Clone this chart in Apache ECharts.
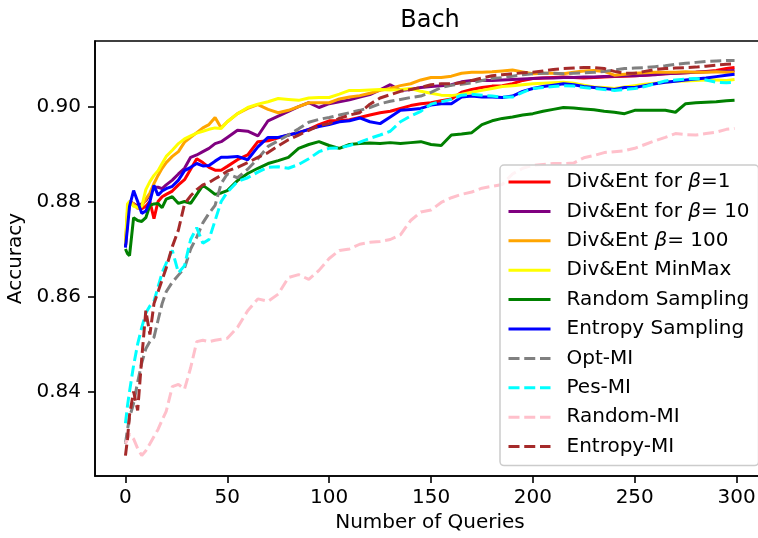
<!DOCTYPE html>
<html>
<head>
<meta charset="utf-8">
<script src="https://cdn.jsdelivr.net/npm/echarts@6/dist/echarts.min.js"></script>
<style>
  html, body { margin: 0; padding: 0; background: #fff; }
  #chart { width: 758px; height: 538px; }
</style>
</head>
<body>
<div id="chart"></div>
<script>
// Query counts at which accuracy was recorded
const queries = [0, 1, 2, 4, 6, 8, 10, 12, 14, 16, 18, 20,
  23, 26, 29, 32, 35, 38, 41, 44, 47, 50,
  55, 60, 65, 70, 75, 80, 85, 90, 95, 100,
  105, 110, 115, 120, 125, 130, 135, 140, 145, 150,
  155, 160, 165, 170, 175, 180, 185, 190, 195, 200,
  205, 210, 215, 220, 225, 230, 235, 240, 245, 250,
  255, 260, 265, 270, 275, 280, 285, 290, 295, 299];

const divEntBeta1 = [0.8705, 0.8760, 0.8800, 0.8795, 0.8790, 0.8785, 0.8790, 0.8800, 0.8764, 0.8800, 0.8810, 0.8815,
  0.8822, 0.8835, 0.8846, 0.8868, 0.8890, 0.8882, 0.8872, 0.8866, 0.8866, 0.8874,
  0.8888, 0.8898, 0.8926, 0.8928, 0.8934, 0.8940, 0.8945, 0.8952, 0.8962, 0.8970,
  0.8970, 0.8972, 0.8977, 0.8982, 0.8987, 0.8990, 0.8996, 0.9002, 0.9006, 0.9008,
  0.9012, 0.9016, 0.9030, 0.9036, 0.9040, 0.9043, 0.9044, 0.9048, 0.9055, 0.9059,
  0.9060, 0.9061, 0.9062, 0.9061, 0.9060, 0.9061, 0.9062, 0.9063, 0.9064, 0.9065,
  0.9066, 0.9068, 0.9069, 0.9070, 0.9071, 0.9072, 0.9074, 0.9076, 0.9080, 0.9082];

const divEntBeta10 = [0.8705, 0.8770, 0.8800, 0.8795, 0.8790, 0.8795, 0.8802, 0.8815, 0.8830, 0.8830, 0.8827, 0.8835,
  0.8845, 0.8858, 0.8870, 0.8893, 0.8898, 0.8905, 0.8912, 0.8922, 0.8926, 0.8935,
  0.8950, 0.8948, 0.8938, 0.8970, 0.8980, 0.8990, 0.9000, 0.9008, 0.8998, 0.9006,
  0.9010, 0.9014, 0.9020, 0.9025, 0.9035, 0.9046, 0.9034, 0.9036, 0.9040, 0.9042,
  0.9044, 0.9046, 0.9052, 0.9055, 0.9055, 0.9055, 0.9056, 0.9057, 0.9058, 0.9059,
  0.9060, 0.9060, 0.9061, 0.9061, 0.9062, 0.9062, 0.9063, 0.9064, 0.9065, 0.9065,
  0.9066, 0.9067, 0.9069, 0.9070, 0.9071, 0.9072, 0.9073, 0.9074, 0.9075, 0.9076];

const divEntBeta100 = [0.8710, 0.8780, 0.8800, 0.8795, 0.8785, 0.8790, 0.8805, 0.8818, 0.8838, 0.8855, 0.8870, 0.8882,
  0.8895, 0.8905, 0.8925, 0.8935, 0.8945, 0.8955, 0.8962, 0.8977, 0.8955, 0.8968,
  0.8985, 0.8996, 0.9004, 0.8994, 0.8987, 0.8992, 0.9000, 0.9008, 0.9008, 0.9008,
  0.9016, 0.9020, 0.9023, 0.9028, 0.9034, 0.9038, 0.9044, 0.9048, 0.9056, 0.9061,
  0.9061, 0.9064, 0.9070, 0.9072, 0.9072, 0.9073, 0.9075, 0.9077, 0.9073, 0.9069,
  0.9070, 0.9070, 0.9069, 0.9072, 0.9075, 0.9076, 0.9074, 0.9066, 0.9068, 0.9070,
  0.9071, 0.9072, 0.9072, 0.9072, 0.9073, 0.9072, 0.9072, 0.9073, 0.9072, 0.9072];

const divEntMinMax = [0.8712, 0.8795, 0.8800, 0.8790, 0.8788, 0.8790, 0.8825, 0.8842, 0.8855, 0.8865, 0.8880, 0.8895,
  0.8908, 0.8922, 0.8932, 0.8938, 0.8944, 0.8948, 0.8952, 0.8955, 0.8954, 0.8968,
  0.8985, 0.8998, 0.9005, 0.9010, 0.9017, 0.9015, 0.9013, 0.9018, 0.9019, 0.9019,
  0.9026, 0.9034, 0.9034, 0.9035, 0.9036, 0.9035, 0.9036, 0.9038, 0.9032, 0.9028,
  0.9024, 0.9023, 0.9026, 0.9030, 0.9034, 0.9038, 0.9042, 0.9044, 0.9046, 0.9048,
  0.9049, 0.9050, 0.9051, 0.9049, 0.9045, 0.9041, 0.9040, 0.9038, 0.9041, 0.9044,
  0.9047, 0.9049, 0.9051, 0.9053, 0.9054, 0.9055, 0.9056, 0.9056, 0.9055, 0.9057];

const randomSampling = [0.8700, 0.8690, 0.8686, 0.8766, 0.8760, 0.8758, 0.8766, 0.8792, 0.8795, 0.8796, 0.8787, 0.8805,
  0.8810, 0.8796, 0.8800, 0.8796, 0.8815, 0.8834, 0.8825, 0.8815, 0.8818, 0.8823,
  0.8844, 0.8859, 0.8870, 0.8880, 0.8886, 0.8893, 0.8912, 0.8920, 0.8926, 0.8918,
  0.8912, 0.8920, 0.8922, 0.8923, 0.8922, 0.8924, 0.8922, 0.8924, 0.8926, 0.8920,
  0.8918, 0.8940, 0.8942, 0.8945, 0.8962, 0.8970, 0.8975, 0.8978, 0.8982, 0.8985,
  0.8990, 0.8994, 0.8998, 0.8997, 0.8995, 0.8993, 0.8990, 0.8988, 0.8985, 0.8992,
  0.8992, 0.8992, 0.8992, 0.8988, 0.9006, 0.9008, 0.9009, 0.9010, 0.9012, 0.9013];

const entropySampling = [0.8703, 0.8745, 0.8790, 0.8823, 0.8800, 0.8775, 0.8780, 0.8800, 0.8834, 0.8813, 0.8822, 0.8827,
  0.8832, 0.8845, 0.8865, 0.8872, 0.8880, 0.8875, 0.8876, 0.8885, 0.8893, 0.8893,
  0.8895, 0.8888, 0.8915, 0.8935, 0.8935, 0.8940, 0.8945, 0.8952, 0.8958, 0.8962,
  0.8968, 0.8970, 0.8976, 0.8968, 0.8964, 0.8978, 0.8992, 0.8994, 0.8996, 0.9003,
  0.9006, 0.9006, 0.9020, 0.9022, 0.9020, 0.9020, 0.9019, 0.9022, 0.9032, 0.9038,
  0.9042, 0.9045, 0.9048, 0.9046, 0.9042, 0.9040, 0.9038, 0.9036, 0.9040, 0.9040,
  0.9044, 0.9048, 0.9051, 0.9053, 0.9056, 0.9058, 0.9060, 0.9063, 0.9066, 0.9068];

const optMI = [0.8290, 0.8320, 0.8345, 0.8375, 0.8420, 0.8460, 0.8490, 0.8505, 0.8514, 0.8550, 0.8585, 0.8610,
  0.8630, 0.8645, 0.8660, 0.8700, 0.8725, 0.8755, 0.8775, 0.8792, 0.8838, 0.8858,
  0.8850, 0.8868, 0.8890, 0.8916, 0.8928, 0.8940, 0.8953, 0.8967, 0.8973, 0.8977,
  0.8982, 0.8987, 0.8992, 0.8998, 0.9006, 0.9011, 0.9015, 0.9019, 0.9022, 0.9030,
  0.9040, 0.9045, 0.9047, 0.9050, 0.9055, 0.9059, 0.9061, 0.9064, 0.9067, 0.9069,
  0.9070, 0.9070, 0.9069, 0.9070, 0.9071, 0.9072, 0.9074, 0.9077, 0.9080, 0.9081,
  0.9082, 0.9084, 0.9086, 0.9089, 0.9091, 0.9093, 0.9095, 0.9096, 0.9097, 0.9097];

const pesMI = [0.8333, 0.8370, 0.8400, 0.8455, 0.8500, 0.8535, 0.8565, 0.8580, 0.8590, 0.8620, 0.8650, 0.8670,
  0.8697, 0.8650, 0.8665, 0.8720, 0.8745, 0.8712, 0.8720, 0.8760, 0.8800, 0.8820,
  0.8842, 0.8850, 0.8862, 0.8872, 0.8873, 0.8870, 0.8878, 0.8890, 0.8905, 0.8912,
  0.8913, 0.8918, 0.8925, 0.8933, 0.8940, 0.8948, 0.8968, 0.8980, 0.8990, 0.9005,
  0.9010, 0.9015, 0.9024, 0.9026, 0.9024, 0.9022, 0.9020, 0.9020, 0.9030, 0.9038,
  0.9040, 0.9042, 0.9044, 0.9043, 0.9040, 0.9038, 0.9036, 0.9034, 0.9036, 0.9038,
  0.9042, 0.9048, 0.9054, 0.9056, 0.9058, 0.9059, 0.9056, 0.9051, 0.9050, 0.9051];

const randomMI = [0.8290, 0.8300, 0.8310, 0.8300, 0.8280, 0.8265, 0.8275, 0.8290, 0.8305, 0.8320, 0.8340, 0.8358,
  0.8410, 0.8415, 0.8405, 0.8450, 0.8505, 0.8508, 0.8505, 0.8508, 0.8510, 0.8512,
  0.8535, 0.8570, 0.8595, 0.8590, 0.8605, 0.8640, 0.8646, 0.8636, 0.8655, 0.8680,
  0.8697, 0.8700, 0.8710, 0.8714, 0.8716, 0.8720, 0.8730, 0.8760, 0.8778, 0.8782,
  0.8798, 0.8808, 0.8815, 0.8820, 0.8828, 0.8832, 0.8836, 0.8858, 0.8870, 0.8876,
  0.8878, 0.8880, 0.8880, 0.8881, 0.8892, 0.8897, 0.8903, 0.8905, 0.8907, 0.8912,
  0.8920, 0.8928, 0.8935, 0.8943, 0.8941, 0.8940, 0.8943, 0.8946, 0.8952, 0.8954];

const entropyMI = [0.8265, 0.8300, 0.8350, 0.8400, 0.8360, 0.8470, 0.8570, 0.8520, 0.8585, 0.8610, 0.8635, 0.8660,
  0.8705, 0.8740, 0.8795, 0.8812, 0.8825, 0.8835, 0.8840, 0.8848, 0.8855, 0.8864,
  0.8872, 0.8882, 0.8893, 0.8903, 0.8917, 0.8930, 0.8940, 0.8950, 0.8960, 0.8964,
  0.8975, 0.8982, 0.8987, 0.9005, 0.9018, 0.9025, 0.9032, 0.9036, 0.9040, 0.9046,
  0.9048, 0.9048, 0.9050, 0.9055, 0.9060, 0.9065, 0.9067, 0.9069, 0.9071, 0.9072,
  0.9075, 0.9078, 0.9080, 0.9081, 0.9082, 0.9082, 0.9080, 0.9074, 0.9070, 0.9070,
  0.9074, 0.9078, 0.9080, 0.9081, 0.9082, 0.9083, 0.9085, 0.9087, 0.9089, 0.9090];

const xTicks = [0, 50, 100, 150, 200, 250, 300];
const yTicks = [0.84, 0.86, 0.88, 0.90];

// Series order, labels and line styles (later series draw on top)
const curves = [
  { name: 'Div&Ent for β=1',   values: divEntBeta1,      color: '#ff0000', dashed: false },
  { name: 'Div&Ent for β= 10', values: divEntBeta10,     color: '#800080', dashed: false },
  { name: 'Div&Ent β= 100',    values: divEntBeta100,    color: '#ffa500', dashed: false },
  { name: 'Div&Ent MinMax',    values: divEntMinMax,     color: '#ffff00', dashed: false },
  { name: 'Random Sampling',   values: randomSampling,   color: '#008000', dashed: false },
  { name: 'Entropy Sampling',  values: entropySampling,  color: '#0000ff', dashed: false },
  { name: 'Opt-MI',            values: optMI,            color: '#808080', dashed: true },
  { name: 'Pes-MI',            values: pesMI,            color: '#00ffff', dashed: true },
  { name: 'Random-MI',         values: randomMI,         color: '#ffc0cb', dashed: true },
  { name: 'Entropy-MI',        values: entropyMI,        color: '#a52a2a', dashed: true }
];

const FONT = 'DejaVu Sans';
const chart = echarts.init(document.getElementById('chart'), null, { renderer: 'canvas' });

chart.setOption({
  animation: false,
  backgroundColor: '#fff',
  graphic: [{
    type: 'text',
    x: 430,
    y: 21,
    style: {
      text: 'Bach',
      fill: '#000',
      fontSize: 24,
      fontFamily: FONT,
      align: 'center',
      verticalAlign: 'middle'
    }
  }],
  grid: {
    left: 95,
    top: 41,
    width: 670,
    height: 435,
    outerBoundsMode: 'none',
    containLabel: false,
    show: true,
    borderColor: '#000',
    borderWidth: 1.6,
    backgroundColor: 'transparent'
  },
  legend: {
    orient: 'vertical',
    left: 500,
    top: 165,
    padding: [7, 9, 9, 7],
    itemWidth: 42,
    itemHeight: 14,
    itemGap: 9.4,
    backgroundColor: 'rgba(255,255,255,0.8)',
    borderColor: '#cccccc',
    borderWidth: 1.5,
    borderRadius: 4,
    itemStyle: { color: 'transparent', borderColor: 'transparent', borderWidth: 0 },
    lineStyle: { width: 3 },
    data: curves.map(c => c.name),
    formatter: name => name.replace('β', '{g|β}'),
    textStyle: {
      fontFamily: FONT,
      fontSize: 20,
      lineHeight: 20,
      color: '#000',
      padding: [0, 0, 0, 11],
      rich: {
        g: { fontFamily: FONT, fontSize: 20, lineHeight: 20, fontStyle: 'italic', color: '#000' }
      }
    }
  },
  xAxis: {
    type: 'value',
    min: -14.95,
    max: 313.95,
    splitLine: { show: false },
    axisLine: { show: true, onZero: false, lineStyle: { color: '#000', width: 1.6 } },
    axisTick: { show: true, length: 7, lineStyle: { color: '#000', width: 1.6 }, customValues: xTicks },
    axisLabel: { customValues: xTicks, margin: 12, fontSize: 20, fontFamily: FONT, color: '#000' },
    name: 'Number of Queries',
    nameLocation: 'middle',
    nameGap: 37,
    nameTextStyle: { fontSize: 20, fontFamily: FONT, color: '#000' }
  },
  yAxis: {
    type: 'value',
    min: 0.8222,
    max: 0.9138,
    splitLine: { show: false },
    axisLine: { show: true, onZero: false, lineStyle: { color: '#000', width: 1.6 } },
    axisTick: { show: true, length: 7, lineStyle: { color: '#000', width: 1.6 }, customValues: yTicks },
    axisLabel: {
      customValues: yTicks, margin: 14, fontSize: 20, fontFamily: FONT, color: '#000',
      formatter: v => v.toFixed(2)
    },
    name: 'Accuracy',
    nameLocation: 'middle',
    nameGap: 63,
    nameTextStyle: { fontSize: 20, fontFamily: FONT, color: '#000' }
  },
  series: curves.map(c => ({
    type: 'line',
    name: c.name,
    symbol: 'none',
    clip: true,
    data: queries.map((q, i) => [q, c.values[i]]),
    lineStyle: { color: c.color, width: 3, type: c.dashed ? [11, 4.75] : 'solid' },
    itemStyle: { color: c.color }
  }))
});
</script>
</body>
</html>
